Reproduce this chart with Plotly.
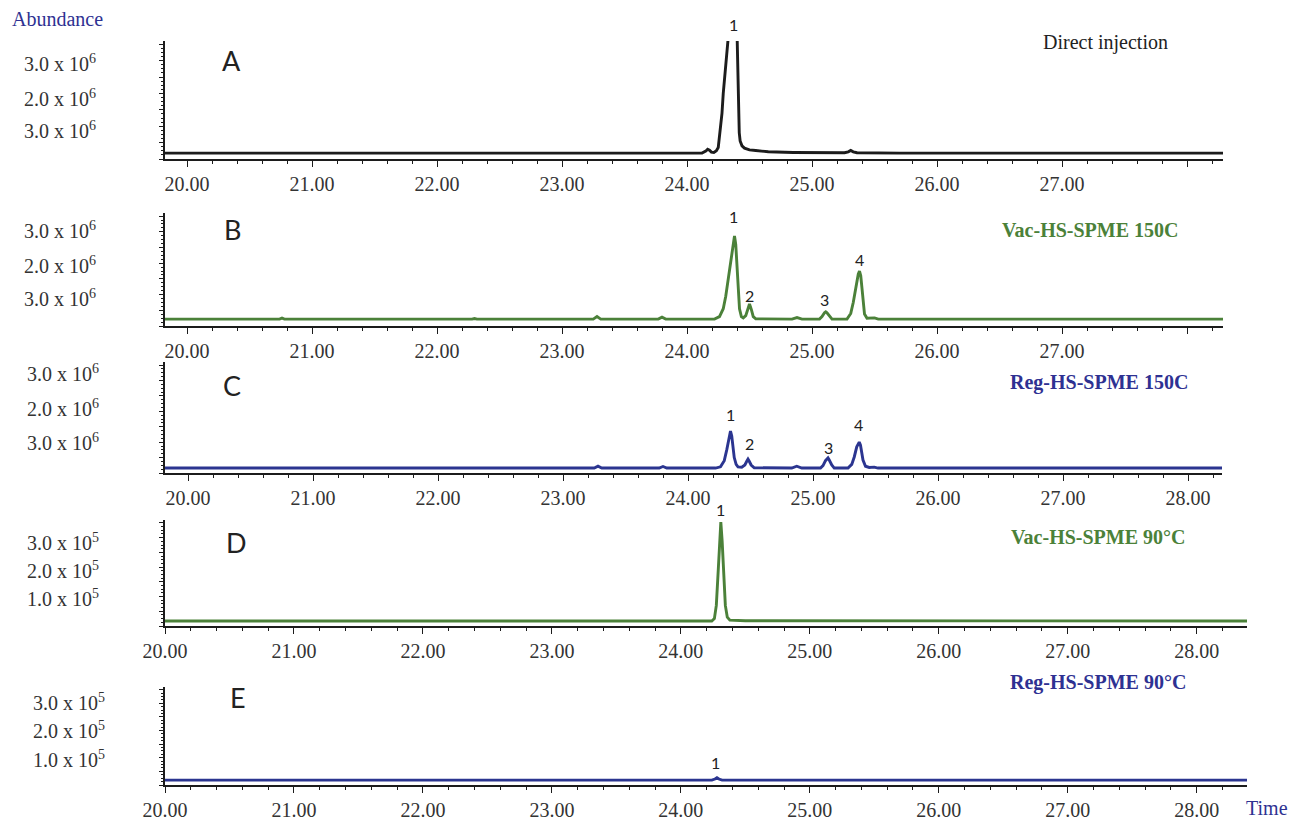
import plotly.graph_objects as go

W, H = 1293, 821

# ---------------- data (retention time in min, abundance) ----------------
# Panel A - direct injection (abundance x10^6)
A_t = [19.824, 21.3, 24.12, 24.15, 24.165, 24.18, 24.195, 24.215, 24.235, 24.25, 24.265,
       24.28, 24.29, 24.30, 24.315, 24.33, 24.36, 24.40, 24.405, 24.41, 24.418, 24.425,
       24.44, 24.46, 24.50, 24.55, 24.65, 24.85, 25.0, 25.26, 25.29, 25.31, 25.33, 25.36,
       25.7, 28.288]
A_y = [0.18, 0.18, 0.18, 0.24, 0.30, 0.27, 0.21, 0.20, 0.25, 0.35, 0.80,
       1.4, 2.0, 2.6, 3.2, 3.9, 5.0, 3.9, 2.8, 2.0, 0.80, 0.55,
       0.40, 0.33, 0.28, 0.26, 0.22, 0.20, 0.19, 0.19, 0.22, 0.26, 0.22, 0.19,
       0.18, 0.18]

# Panel B - Vac-HS-SPME 150C (x10^6)
B_t = [19.824, 20.74, 20.76, 20.78, 22.28, 22.30, 22.32, 23.25, 23.28, 23.31, 23.77, 23.80,
       23.83, 24.22, 24.26, 24.29, 24.31, 24.33, 24.35, 24.37, 24.38, 24.39, 24.40, 24.41,
       24.42, 24.435, 24.45, 24.47, 24.485, 24.50, 24.515, 24.53, 24.55, 24.84, 24.88,
       24.92, 25.06, 25.08, 25.10, 25.11, 25.12, 25.14, 25.16, 25.28, 25.31, 25.33, 25.35,
       25.37, 25.38, 25.39, 25.40, 25.41, 25.42, 25.44, 25.50, 25.53, 28.288]
B_y = [0.22, 0.22, 0.25, 0.22, 0.22, 0.24, 0.22, 0.22, 0.30, 0.22, 0.22, 0.28,
       0.22, 0.22, 0.30, 0.55, 0.95, 1.5, 2.2, 2.75, 2.87, 2.6, 1.9, 1.1,
       0.55, 0.30, 0.26, 0.33, 0.52, 0.70, 0.52, 0.30, 0.23, 0.22, 0.27,
       0.22, 0.22, 0.30, 0.42, 0.45, 0.42, 0.30, 0.22, 0.22, 0.40, 0.75, 1.25,
       1.65, 1.75, 1.6, 1.2, 0.70, 0.38, 0.25, 0.26, 0.22, 0.22]

# Panel C - Reg-HS-SPME 150C (x10^6)
C_t = [19.816, 23.25, 23.28, 23.31, 23.77, 23.80, 23.83, 24.22, 24.26, 24.29, 24.31, 24.33,
       24.34, 24.35, 24.36, 24.37, 24.385, 24.40, 24.43, 24.455, 24.47, 24.48, 24.49,
       24.505, 24.53, 24.83, 24.87, 24.91, 25.06, 25.08, 25.10, 25.12, 25.13, 25.15, 25.17,
       25.28, 25.31, 25.33, 25.35, 25.37, 25.38, 25.39, 25.40, 25.42, 25.45, 25.49, 25.52,
       28.272]
C_y = [0.16, 0.16, 0.22, 0.16, 0.16, 0.21, 0.16, 0.16, 0.20, 0.40, 0.75, 1.2,
       1.36, 1.2, 0.85, 0.50, 0.28, 0.20, 0.19, 0.26, 0.38, 0.45, 0.38,
       0.26, 0.17, 0.16, 0.22, 0.16, 0.16, 0.24, 0.40, 0.49, 0.42, 0.26, 0.16,
       0.16, 0.28, 0.52, 0.85, 1.0, 0.90, 0.65, 0.42, 0.22, 0.18, 0.19, 0.16,
       0.16]

# Panel D - Vac-HS-SPME 90°C (x10^5)
D_t = [20.0, 24.24, 24.26, 24.275, 24.29, 24.30, 24.31, 24.32, 24.33, 24.345, 24.36,
       24.38, 24.5, 28.39]
D_y = [0.17, 0.17, 0.25, 0.70, 1.9, 2.9, 3.53, 2.9, 1.9, 0.70, 0.30,
       0.20, 0.18, 0.17]

# Panel E - Reg-HS-SPME 90°C (x10^5)
E_t = [20.0, 24.24, 24.265, 24.28, 24.295, 24.32, 28.39]
E_y = [0.18, 0.18, 0.22, 0.27, 0.22, 0.18, 0.18]

# tick labels
x_ticks = [20, 21, 22, 23, 24, 25, 26, 27, 28]
x_labels_AB = ["20.00", "21.00", "22.00", "23.00", "24.00", "25.00", "26.00", "27.00", ""]
x_labels_CDE = ["20.00", "21.00", "22.00", "23.00", "24.00", "25.00", "26.00", "27.00", "28.00"]
y_labels_6 = ["3.0 x 10<sup>6</sup>", "2.0 x 10<sup>6</sup>", "3.0 x 10<sup>6</sup>"]
y_labels_5 = ["3.0 x 10<sup>5</sup>", "2.0 x 10<sup>5</sup>", "1.0 x 10<sup>5</sup>"]

panel_letters = ["A", "B", "C", "D", "E"]
panel_titles = ["Direct injection", "<b>Vac-HS-SPME 150C</b>", "<b>Reg-HS-SPME 150C</b>",
                "<b>Vac-HS-SPME 90°C</b>", "<b>Reg-HS-SPME 90°C</b>"]

# peak labels
B_peaks_t = [24.37, 24.50, 25.10, 25.38]
B_peaks_y = [2.87, 0.70, 0.45, 1.75]
C_peaks_t = [24.34, 24.49, 25.12, 25.36]
C_peaks_y = [1.36, 0.45, 0.49, 1.0]
D_peaks_t = [24.31]
D_peaks_y = [3.53]
E_peaks_t = [24.27]
E_peaks_y = [0.27]
peak_names = ["1", "2", "3", "4"]

# ---------------- styling ----------------
BLACK = "#1c1c1c"
GREEN = "#4b8139"
BLUE = "#2b3590"
TXTBLUE = "#2e3192"
SERIF = "Liberation Serif"
SANS = "Lato"

def px_x(p):
    return p / W

def px_y(p):
    return 1 - p / H

# panel geometry in pixels: (left, right, top, bottom)
geo = [
    (165, 1223, 41, 159),
    (165, 1223, 213, 326),
    (165, 1222, 362, 473),
    (165, 1247, 520, 626),
    (165, 1247, 687, 785),
]
xranges = [[19.824, 28.288], [19.824, 28.288], [19.816, 28.272], [20.0, 28.39], [20.0, 28.39]]
yranges = [[0, 3.6]] * 5
colors = [BLACK, GREEN, BLUE, GREEN, BLUE]
series = [(A_t, A_y), (B_t, B_y), (C_t, C_y), (D_t, D_y), (E_t, E_y)]
xlabels = [x_labels_AB, x_labels_AB, x_labels_CDE, x_labels_CDE, x_labels_CDE]

fig = go.Figure()
layout = dict(
    template="none",
    width=W, height=H, autosize=False,
    margin=dict(l=0, r=0, t=0, b=0, pad=0, autoexpand=False),
    paper_bgcolor="white", plot_bgcolor="white", showlegend=False,
)

for i in range(5):
    n = "" if i == 0 else str(i + 1)
    t, y = series[i]
    fig.add_trace(go.Scatter(
        x=t, y=y, mode="lines", xaxis="x" + n, yaxis="y" + n,
        line=dict(color=colors[i], width=2.9, shape="linear"),
        hoverinfo="skip",
    ))
    l, r, top, bot = geo[i]
    layout["xaxis" + n] = dict(
        domain=[px_x(l), px_x(r)], anchor="y" + n, range=xranges[i],
        automargin=False,
        showline=True, linecolor=BLACK, linewidth=1.5, mirror=False,
        showgrid=False, zeroline=False,
        tickmode="array", tickvals=x_ticks, ticktext=xlabels[i],
        ticks="outside", ticklen=6, tickwidth=1.2, tickcolor=BLACK,
        minor=dict(tickmode="linear", tick0=20, dtick=0.2, ticks="outside",
                   ticklen=3, tickwidth=1, tickcolor=BLACK, showgrid=False),
        tickfont=dict(family=SERIF, size=20, color="#333333"),
        fixedrange=True,
    )
    layout["yaxis" + n] = dict(
        domain=[px_y(bot), px_y(top)], anchor="x" + n, range=yranges[i],
        automargin=False,
        showline=True, linecolor=BLACK, linewidth=1.5,
        showgrid=False, zeroline=False, showticklabels=False,
        tickmode="linear", tick0=0, dtick=0.5,
        ticks="outside", ticklen=4, tickwidth=1, tickcolor=BLACK,
        minor=dict(tickmode="linear", tick0=0, dtick=0.125, ticks="outside",
                   ticklen=2, tickwidth=1, tickcolor=BLACK, showgrid=False),
        fixedrange=True,
    )

fig.update_layout(**layout)

ann = []
# y-axis text labels (pixel positions)
ylab_pos = [
    (22, [63, 98, 130]),
    (22, [230, 265, 298]),
    (25, [373, 408, 442]),
    (25, [542, 570, 598]),
    (31, [702, 730, 759]),
]
ylab_sets = [y_labels_6, y_labels_6, y_labels_6, y_labels_5, y_labels_5]
for i in range(5):
    xl, ys = ylab_pos[i]
    for txt, yy in zip(ylab_sets[i], ys):
        ann.append(dict(text=txt, xref="paper", yref="paper", x=px_x(xl), y=px_y(yy),
                        xanchor="left", yanchor="middle", showarrow=False,
                        font=dict(family=SERIF, size=20, color="#333333")))

# panel letters
letter_pos = [(231, 60), (232, 229), (232, 385), (236, 542), (238, 697)]
for L, (lx, ly) in zip(panel_letters, letter_pos):
    ann.append(dict(text=L, xref="paper", yref="paper", x=px_x(lx), y=px_y(ly),
                    xanchor="center", yanchor="middle", showarrow=False,
                    font=dict(family=SANS, size=27, color="#222222")))

# panel titles
title_pos = [(1105, 42), (1090, 230), (1099, 382), (1098, 537), (1098, 682)]
title_col = ["#222222", GREEN, TXTBLUE, GREEN, TXTBLUE]
for T, (tx, ty), c in zip(panel_titles, title_pos, title_col):
    ann.append(dict(text=T, xref="paper", yref="paper", x=px_x(tx), y=px_y(ty),
                    xanchor="center", yanchor="middle", showarrow=False,
                    font=dict(family=SERIF, size=20, color=c)))

# axis names
ann.append(dict(text="Abundance", xref="paper", yref="paper", x=px_x(10), y=px_y(19),
                xanchor="left", yanchor="middle", showarrow=False,
                font=dict(family=SERIF, size=20, color=TXTBLUE)))
ann.append(dict(text="Time", xref="paper", yref="paper", x=px_x(1289), y=0.001,
                xanchor="right", yanchor="bottom", showarrow=False, borderpad=0,
                font=dict(family=SERIF, size=20, color=TXTBLUE)))

# peak labels
PK = dict(family=SANS, size=16, color="#222222")
ann.append(dict(text="1", xref="x", yref="paper", x=24.37, y=px_y(25),
                xanchor="center", yanchor="middle", showarrow=False, font=PK))
B_shift = [19, 9, 12, 12]
for tt, yy, nm, s in zip(B_peaks_t, B_peaks_y, peak_names, B_shift):
    ann.append(dict(text=nm, xref="x2", yref="y2", x=tt, y=yy, yshift=s,
                    xanchor="center", yanchor="middle", showarrow=False, font=PK))
C_shift = [17, 16, 10, 18]
for tt, yy, nm, s in zip(C_peaks_t, C_peaks_y, peak_names, C_shift):
    ann.append(dict(text=nm, xref="x3", yref="y3", x=tt, y=yy, yshift=s,
                    xanchor="center", yanchor="middle", showarrow=False, font=PK))
for tt, yy, nm in zip(D_peaks_t, D_peaks_y, peak_names):
    ann.append(dict(text=nm, xref="x4", yref="y4", x=tt, y=yy, yshift=13,
                    xanchor="center", yanchor="middle", showarrow=False, font=PK))
for tt, yy, nm in zip(E_peaks_t, E_peaks_y, peak_names):
    ann.append(dict(text=nm, xref="x5", yref="y5", x=tt, y=yy, yshift=15,
                    xanchor="center", yanchor="middle", showarrow=False, font=PK))

fig.update_layout(annotations=ann)
fig.write_html("out.html")
